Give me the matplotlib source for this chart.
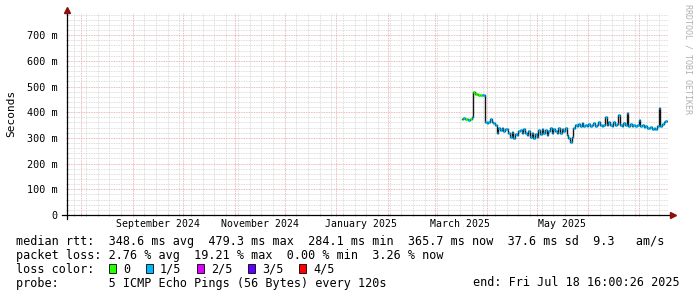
import matplotlib
matplotlib.use("Agg")
import matplotlib.pyplot as plt
import matplotlib.dates as mdates
from matplotlib.ticker import MultipleLocator, FuncFormatter, FixedLocator
import pandas as pd
import numpy as np

# ---------------- data ----------------
data_start = "2025-03-17"
median_ms = [
    373, 378, 372, 375, 371, 373, 380,            # 0-6
    479, 471, 469, 468, 467, 466, 465,            # 7-13
    360, 358, 362, 372, 360, 357, 352,            # 14-20
    320, 338, 330, 340, 325, 335, 335, 318, 305,  # 21-29
    322, 300, 315, 310, 325, 330, 318, 335, 320,  # 30-38
    310, 325, 305, 320, 298, 315, 305, 330, 315,  # 39-47
    335, 320, 330, 312, 325, 338, 320, 335, 328,  # 48-56
    320, 340, 318, 335, 325, 340, 312, 300, 284,  # 57-65
    305, 340, 352, 345, 355, 348, 358, 345, 350,  # 66-74
    348, 355, 345, 350, 358, 348, 352, 362, 350,  # 75-83
    345, 352, 380, 350, 360, 350, 345, 360, 350,  # 84-92
    355, 390, 352, 345, 358, 350, 398, 345, 355,  # 93-101
    348, 352, 345, 350, 368, 345, 350, 342, 345,  # 102-110
    340, 338, 342, 335, 340, 336, 345, 415, 345,  # 111-119
    355, 360, 366,                                # 120-122
]
# loss level per step (0 = 0/5, 1 = 1/5, ...)
loss_level = [0, 1, 0, 0, 1, 0, 1,
              0, 0, 0, 0, 0, 1, 1] + [1] * (len(median_ms) - 14)

loss_labels = ["0", "1/5", "2/5", "3/5", "4/5"]
loss_colors = ["#26ff00", "#00b8ff", "#dd00ff", "#5e00ff", "#ff0000"]

y_ticks_ms = [0, 100, 200, 300, 400, 500, 600, 700]
month_labels_at = ["2024-09-16", "2024-11-16", "2025-01-16", "2025-03-16", "2025-05-16"]
end_time = pd.Timestamp("2025-07-18 16:00:26")
span_days = 360

legend_lines = [
    "median rtt:  348.6 ms avg  479.3 ms max  284.1 ms min  365.7 ms now  37.6 ms sd  9.3   am/s",
    "packet loss: 2.76 % avg  19.21 % max  0.00 % min  3.26 % now",
]
probe_text = "probe:       5 ICMP Echo Pings (56 Bytes) every 120s"
end_text = "end: Fri Jul 18 16:00:26 2025"

# ---------------- figure ----------------
W, H = 697, 297
fig = plt.figure(figsize=(W / 100, H / 100), dpi=100)
fig.patch.set_facecolor("white")
L, R, B, T = 67, 668, 215, 13
ax = fig.add_axes([L / W, (H - B) / H, (R - L) / W, (B - T) / H])
ax.set_facecolor("white")

mono = "DejaVu Sans Mono"

start_time = end_time - pd.Timedelta(days=span_days)
ax.set_xlim(start_time, end_time)
ax.set_ylim(0, 786)

# grids: monthly major, weekly (Sunday) minor, skipping weeks that fall on a month start
ax.xaxis.set_major_locator(mdates.MonthLocator())
sundays = pd.date_range(start_time.normalize(), end_time, freq="W-SUN")
sundays = [d for d in sundays if d.day != 1]
ax.xaxis.set_minor_locator(FixedLocator(mdates.date2num(sundays)))
ax.yaxis.set_major_locator(MultipleLocator(100))
ax.yaxis.set_minor_locator(MultipleLocator(20))
ax.grid(which="minor", color="#d2d2d2", linestyle=(0, (1, 1)), linewidth=0.6)
ax.grid(which="major", color="#eaa0a0", linestyle=(0, (1, 1)), linewidth=0.6)
ax.set_axisbelow(True)
ax.xaxis.set_major_formatter(FuncFormatter(lambda v, p: ""))
ax.tick_params(axis="both", which="major", length=2, direction="inout", color="#e08080", width=0.6)
ax.tick_params(axis="both", which="minor", length=2, direction="inout", color="#b0b0b0", width=0.6)
ax.yaxis.set_major_formatter(FuncFormatter(lambda v, p: "0" if v == 0 else f"{int(v)} m"))
ax.set_yticks(y_ticks_ms)
for lbl in ax.get_yticklabels():
    lbl.set_fontfamily(mono)
    lbl.set_fontsize(7.3)
ax.tick_params(axis="y", pad=6)

for s in ax.spines.values():
    s.set_visible(False)

# axis lines with arrows
ax.plot([-5 / (R - L), 1 + 2 / (R - L)], [0, 0], color="black", lw=0.9,
        transform=ax.transAxes, clip_on=False, zorder=5)
ax.plot([0, 0], [-4 / (B - T), 1 + 2 / (B - T)], color="black", lw=0.9,
        transform=ax.transAxes, clip_on=False, zorder=5)
ax.plot([1 + 5 / (R - L)], [0], marker=">", color="#8b1010", markersize=4,
        transform=ax.transAxes, clip_on=False, zorder=6)
ax.plot([0], [1 + 3 / (B - T)], marker="^", color="#8b1010", markersize=4,
        transform=ax.transAxes, clip_on=False, zorder=6)

# month labels on a secondary axis
sec = ax.secondary_xaxis("bottom")
sec.set_xticks([mdates.date2num(pd.Timestamp(d)) for d in month_labels_at])
sec.set_xticklabels([pd.Timestamp(d).strftime("%B %Y") for d in month_labels_at],
                    fontfamily=mono, fontsize=7.1)
sec.tick_params(length=0, pad=3)
for s in sec.spines.values():
    s.set_visible(False)

# data
dates = pd.date_range(data_start, periods=len(median_ms), freq="D")
vals = np.array(median_ms, dtype=float)
step = pd.Timedelta(days=1)
ax.step(list(dates) + [dates[-1] + step], list(vals) + [vals[-1]], where="post",
        color="#151515", linewidth=1.0, zorder=3)
for lvl, col in enumerate(loss_colors):
    idx = [i for i, l in enumerate(loss_level) if l == lvl]
    if idx:
        ax.hlines(vals[idx], dates[idx], dates[idx] + step, colors=col, linewidth=2.0, zorder=4)

# y label
fig.text(11 / W, 1 - 113 / H, "Seconds", rotation=90, ha="center", va="center",
         fontfamily=mono, fontsize=8)

# watermark
fig.text(688 / W, 1 - 4 / H, "RRDTOOL / TOBI OETIKER", rotation=270, ha="center", va="top",
         fontfamily=mono, fontsize=6.0, color="#b0b0b0")

# legend text
fs = 8.45
fig.text(16 / W, 1 - 241.5 / H, legend_lines[0], ha="left", va="center", fontfamily=mono, fontsize=fs)
fig.text(16 / W, 1 - 255.3 / H, legend_lines[1], ha="left", va="center", fontfamily=mono, fontsize=fs)
fig.text(16 / W, 1 - 269.2 / H, "loss color:", ha="left", va="center", fontfamily=mono, fontsize=fs)
cw = 7.05
x0 = 108.7
for lab, col in zip(loss_labels, loss_colors):
    fig.patches.append(plt.Rectangle((x0 / W, 1 - 273.3 / H), 7 / W, 9 / H, facecolor=col,
                                     edgecolor="black", linewidth=0.6, transform=fig.transFigure))
    fig.text((x0 + 14.3) / W, 1 - 269.2 / H, lab, ha="left", va="center", fontfamily=mono, fontsize=fs)
    x0 += len(lab) * cw + 30
fig.text(16 / W, 1 - 283 / H, probe_text, ha="left", va="center", fontfamily=mono, fontsize=fs)
fig.text(680 / W, 1 - 283 / H, end_text, ha="right", va="center", fontfamily=mono, fontsize=fs)

fig.savefig("out.png", dpi=100, facecolor="white")
